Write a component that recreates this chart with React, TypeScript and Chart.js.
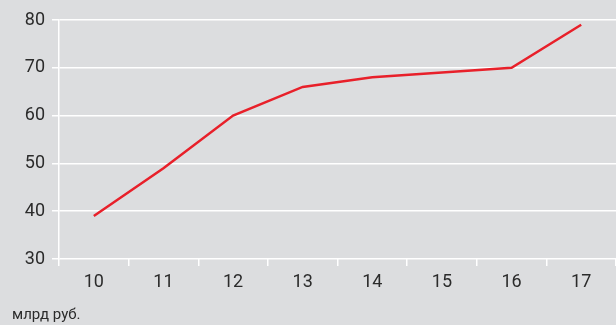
import React, { useEffect, useRef } from "react";
import { Chart, registerables } from "chart.js";

Chart.register(...registerables);

const categories = ["10", "11", "12", "13", "14", "15", "16", "17"];
const values = [39, 49, 60, 66, 68, 69, 70, 79];
const yMin = 30;
const yMax = 80;
const yStep = 10;
const unitLabel = "млрд руб.";

const FONT = "Roboto, 'DejaVu Sans Condensed', sans-serif";

export default function App() {
  const ref = useRef<HTMLCanvasElement>(null);
  useEffect(() => {
    document.body.style.margin = "0";
    const chart = new Chart(ref.current!, {
      type: "line",
      data: {
        labels: categories,
        datasets: [
          {
            data: values,
            borderColor: "#e8202a",
            borderWidth: 2.5,
            pointRadius: 0,
            tension: 0,
            fill: false,
          },
        ],
      },
      options: {
        animation: false,
        responsive: false,
        maintainAspectRatio: false,
        layout: { padding: { top: 20, right: 0, left: 0, bottom: 0 } },
        plugins: { legend: { display: false }, tooltip: { enabled: false } },
        scales: {
          x: {
            offset: true,
            grid: {
              offset: true,
              drawOnChartArea: false,
              drawTicks: true,
              tickLength: 7,
              color: "#ffffff",
              lineWidth: 1.5,
            },
            border: { display: false },
            ticks: {
              color: "#2b2b2b",
              font: { family: FONT, size: 18 },
              padding: 6,
              maxRotation: 0,
            },
            afterFit: (s: any) => {
              s.height = 66;
            },
          },
          y: {
            min: yMin,
            max: yMax,
            grid: {
              color: "#ffffff",
              lineWidth: 1.5,
              tickLength: 7,
            },
            border: { display: true, color: "#ffffff", width: 1.5 },
            ticks: {
              stepSize: yStep,
              color: "#2b2b2b",
              font: { family: FONT, size: 18 },
              padding: 7,
            },
            afterFit: (s: any) => {
              s.width = 59;
            },
          },
        },
      },
    });
    return () => chart.destroy();
  }, []);
  return (
    <div
      style={{
        position: "fixed",
        left: 0,
        top: 0,
        width: 616,
        height: 325,
        background: "#dcdddf",
      }}
    >
      <canvas ref={ref} width={616} height={325} style={{ display: "block" }} />
      <div
        style={{
          position: "absolute",
          left: 12,
          top: 305,
          fontFamily: FONT,
          fontSize: 15,
          color: "#2b2b2b",
          lineHeight: "18px",
        }}
      >
        {unitLabel}
      </div>
    </div>
  );
}
